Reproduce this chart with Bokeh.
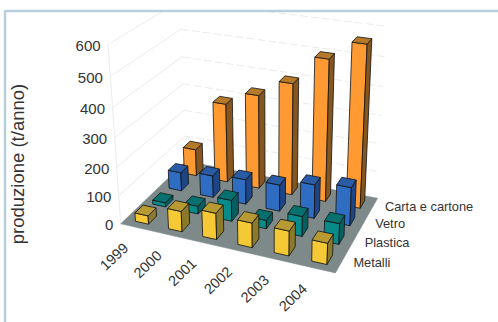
import numpy as np
from bokeh.plotting import figure
from bokeh.models import ColumnDataSource
from bokeh.core.properties import value
from bokeh.embed import file_html
from bokeh.resources import INLINE

years = ["1999", "2000", "2001", "2002", "2003", "2004"]
series = ["Metalli", "Plastica", "Vetro", "Carta e cartone"]
metalli = [30, 72, 92, 85, 85, 72]
plastica = [15, 28, 75, 30, 70, 72]
vetro = [68, 80, 90, 95, 120, 135]
carta = [100, 290, 340, 400, 500, 565]
values = [metalli, plastica, vetro, carta]
y_ticks = [0, 100, 200, 300, 400, 500, 600]
y_title = "produzione (t/anno)"

# camera: (u along years, v depth, w value) -> page pixel, fitted by DLT
anchors = [((0,0,0),(119,223)), ((1,0,0),(335,272)), ((1,1,0),(377,198)), ((0,1,0),(186,160)),
           ((0,0,600),(108,43)), ((1,1,600),(385,25)), ((0,1,500),(180,29)),
           ((1,1,300),(382,116)), ((0,0,300),(115,139))]
A, b = [], []
for (u, v, w), (x, y) in anchors:
    w = w / 600
    A.append([u, v, w, 1, 0, 0, 0, 0, -x*u, -x*v, -x*w]); b.append(x)
    A.append([0, 0, 0, 0, u, v, w, 1, -y*u, -y*v, -y*w]); b.append(y)
M = np.linalg.lstsq(np.array(A, float), np.array(b, float), rcond=None)[0]
M = np.append(M, 1.0).reshape(3, 4)

def proj(u, v, w):
    h = M @ np.array([u, v, w / 600, 1.0])
    return h[0] / h[2], h[1] / h[2]

W, H = 498, 322
p = figure(width=W, height=H, x_range=(0, W), y_range=(H, 0), toolbar_location=None,
           output_backend="svg", min_border=0, outline_line_color=None)
p.axis.visible = False
p.grid.visible = False
p.styles = {"position": "absolute", "left": "0px", "top": "0px"}

GRID = "#ececec"
for t in y_ticks:
    a, b2, c = proj(0, 0, t), proj(0, 1, t), proj(1, 1, t)
    p.line([a[0], b2[0]], [a[1], b2[1]], line_color=GRID, line_width=1)
    p.line([b2[0], c[0]], [b2[1], c[1]], line_color=GRID, line_width=1, line_dash="8 3")
a, b2 = proj(0, 0, 0), proj(0, 0, 600)
p.line([a[0], b2[0]], [a[1], b2[1]], line_color=GRID)

# floor
fl = [proj(0,0,0), proj(1,0,0), proj(1,1,0), proj(0,1,0)]
p.patch([q[0] for q in fl], [q[1] for q in fl], fill_color="#7e8a8a", line_color="#7e8a8a", line_width=0.5)

colors = [("#F5C935", "#8C7A2C", "#B89A33"),
          ("#08898A", "#055F60", "#06706F"),
          ("#2F6DC2", "#1E4585", "#2A5BA5"),
          ("#FF9A33", "#85561F", "#B5792A")]
du, dv = 0.2 / 6, 0.23 / 4
xs, ys, fc = [], [], []
for j in reversed(range(4)):
    for i in range(6):
        uc, vc, h = (i + .5) / 6, (j + .5) / 4, values[j][i]
        u0, u1, v0, v1 = uc - du, uc + du, vc - dv, vc + dv
        faces = [([(u0,v0,0),(u1,v0,0),(u1,v0,h),(u0,v0,h)], colors[j][0]),
                 ([(u1,v0,0),(u1,v1,0),(u1,v1,h),(u1,v0,h)], colors[j][1]),
                 ([(u0,v0,h),(u1,v0,h),(u1,v1,h),(u0,v1,h)], colors[j][2])]
        for pts, col in faces:
            q = [proj(*pt) for pt in pts]
            xs.append([r[0] for r in q]); ys.append([r[1] for r in q]); fc.append(col)
p.patches("xs", "ys", source=ColumnDataSource(dict(xs=xs, ys=ys, fc=fc)), fill_color="fc",
          line_color="#111111", line_width=0.8, line_join="round")

# frame
p.quad(left=[0], right=[W], top=[0], bottom=[9.5], fill_color="white", line_color=None)
p.line([4.5, 4.5, W], [H, 10.5, 10.5], line_color="#B7D0DC", line_width=2.5)

FONT = value("Liberation Sans")
TXT = "#333333"
tx = [proj(0, 0, t)[0] - 7.5 for t in y_ticks]
ty = [proj(0, 0, t)[1] + 1.5 for t in y_ticks]
p.text(tx, ty, text=[str(t) for t in y_ticks], text_align="right", text_baseline="middle",
       text_font=FONT, text_font_size="15px", text_color=TXT)
yx = [proj((i + .5) / 6, 0, 0)[0] - 23 for i in range(6)]
yy = [proj((i + .5) / 6, 0, 0)[1] + 29 for i in range(6)]
p.text(yx, yy, text=years, angle=0.76, text_align="center", text_baseline="middle",
       text_font=FONT, text_font_size="14.5px", text_color=TXT)
sx = [proj(1, (j + .5) / 4, 0)[0] + 12 for j in range(4)]
sy = [proj(1, (j + .5) / 4, 0)[1] + 0 for j in range(4)]
p.text(sx, sy, text=series, text_align="left", text_baseline="middle",
       text_font=FONT, text_font_size="12.8px", text_color=TXT)
p.text([17], [163.5], text=[y_title], angle=np.pi / 2, text_align="center", text_baseline="middle",
       text_font=FONT, text_font_size="18.5px", text_color=TXT)

open("out.html", "w").write(file_html(p, INLINE))
